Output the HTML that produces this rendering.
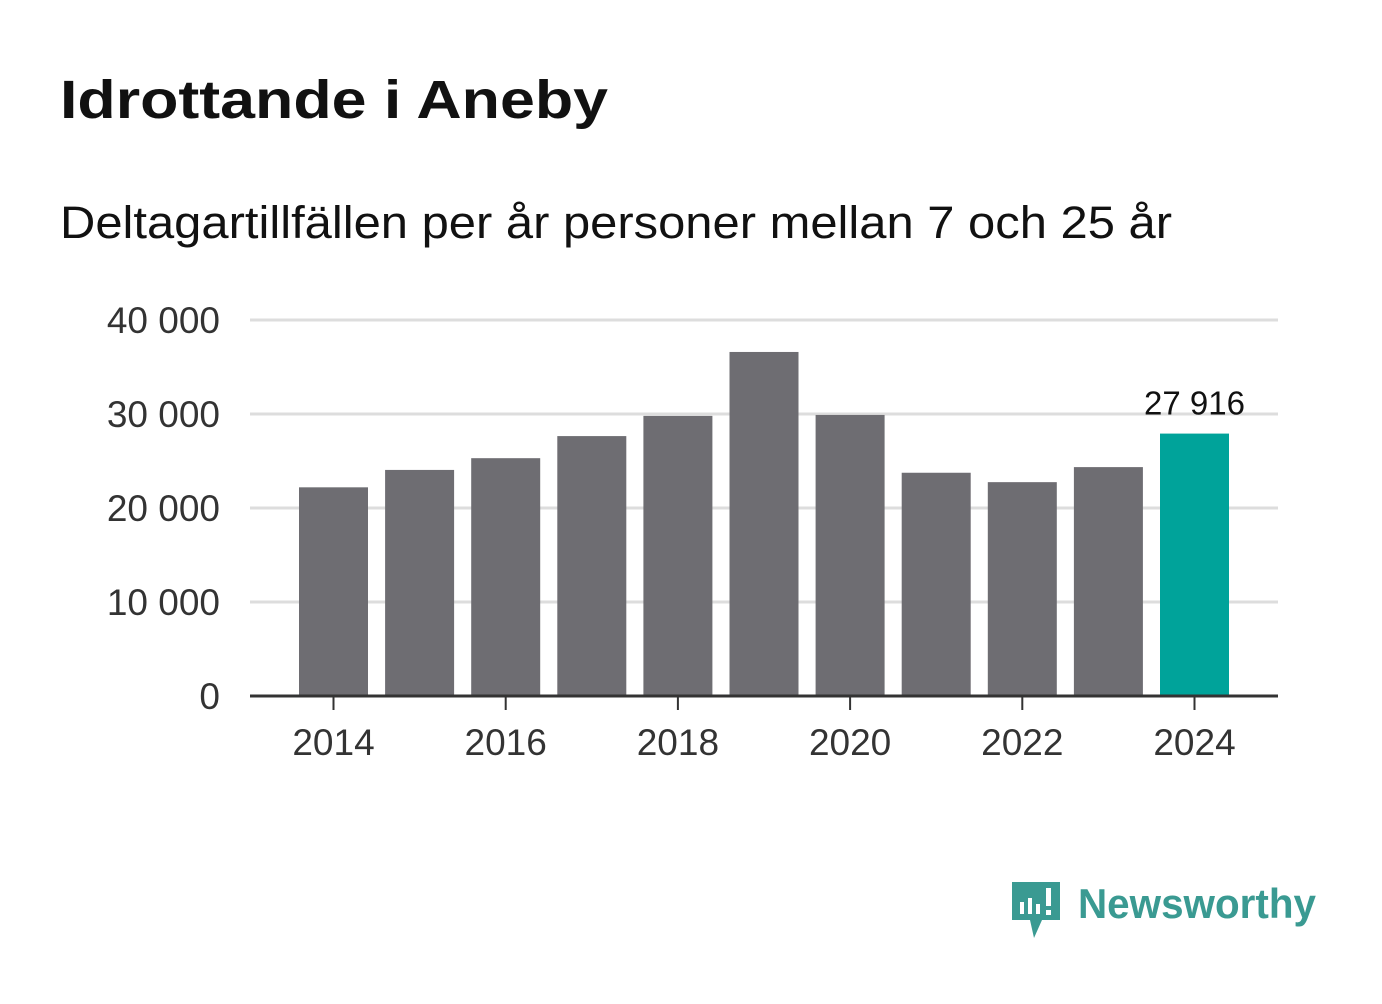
<!DOCTYPE html>
<html><head><meta charset="utf-8"><style>
body{margin:0;background:#fff;width:1382px;height:999px;overflow:hidden;font-family:"Liberation Sans",sans-serif}
</style></head><body>
<svg width="1382" height="999" xmlns="http://www.w3.org/2000/svg">
<text x="60" y="118" font-size="54" font-weight="bold" fill="#111" textLength="548" lengthAdjust="spacingAndGlyphs">Idrottande i Aneby</text>
<text x="60" y="238" font-size="45" fill="#111" textLength="1112" lengthAdjust="spacingAndGlyphs">Deltagartillfällen per år personer mellan 7 och 25 år</text>
<g id="grid"></g><g id="bars"></g><g id="axis"></g>
<g>
<path d="M1012 882h48v38h-18l-8 18-4-18h-18z" fill="#3a9a92"/>
<rect x="1020" y="902" width="4" height="12" fill="#fff"/><rect x="1028" y="898" width="4" height="16" fill="#fff"/><rect x="1036" y="904" width="4" height="10" fill="#fff"/><rect x="1046" y="888" width="5" height="18" fill="#fff"/><rect x="1046" y="910" width="5" height="5" fill="#fff"/>
<text x="1078" y="918" font-size="42" font-weight="bold" fill="#3a9a92" textLength="238" lengthAdjust="spacingAndGlyphs">Newsworthy</text>
</g>
</svg>
<script>
const years=[2014,2015,2016,2017,2018,2019,2020,2021,2022,2023,2024];
const values=[22200,24050,25300,27650,29800,36600,29900,23750,22750,24350,27916];
const yTicks=[0,10000,20000,30000,40000];
const yTickLabels=["0","10 000","20 000","30 000","40 000"];
const xTickYears=[2014,2016,2018,2020,2022,2024];
const NS="http://www.w3.org/2000/svg";
const y=v=>696-v*376/40000;
const x=yr=>333.5+(yr-2014)*86.1;
function mk(t,a,p){const e=document.createElementNS(NS,t);for(const k in a)e.setAttribute(k,a[k]);p.appendChild(e);return e;}
const g=document.getElementById('grid'),b=document.getElementById('bars'),ax=document.getElementById('axis');
yTicks.forEach((v,i)=>{
 if(v>0){const l=mk('line',{x1:250,x2:1278,y1:y(v),y2:y(v),stroke:'#ddd','stroke-width':3},g);
 
 }
 const t=mk('text',{x:220,y:y(v)+13,'font-size':37,fill:'#333','text-anchor':'end'},ax);t.textContent=yTickLabels[i];
 
 
});
years.forEach((yr,i)=>{
 const r=mk('rect',{x:x(yr)-34.5,y:y(values[i]),width:69,height:696-y(values[i]),fill:yr===2024?'#00a39a':'#6e6d72'},b);
 
 
});
const last=values.length-1;
const lbl=mk('text',{x:x(years[last]),y:y(values[last])-19,'font-size':33,fill:'#111','text-anchor':'middle'},ax);
lbl.textContent=values[last].toLocaleString('sv-SE').replace(/\s/g,' ');


const base=mk('line',{x1:250,x2:1278,y1:696,y2:696,stroke:'#333','stroke-width':3},ax);


xTickYears.forEach(yr=>{
 mk('line',{x1:x(yr),x2:x(yr),y1:696,y2:710,stroke:'#333','stroke-width':2},ax);
 const t=mk('text',{x:x(yr),y:755,'font-size':37,fill:'#333','text-anchor':'middle'},ax);t.textContent=yr;
 
 
});
</script>
</body></html>
